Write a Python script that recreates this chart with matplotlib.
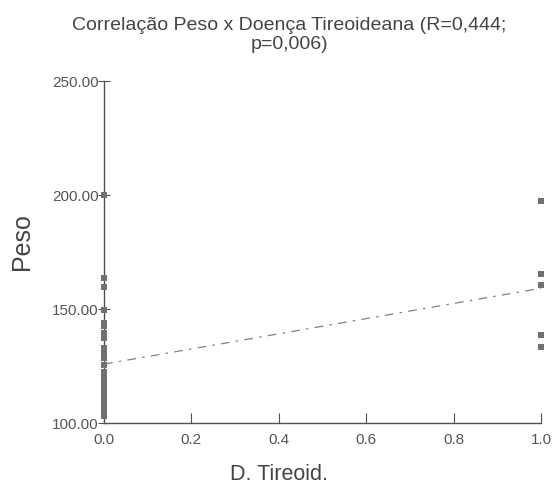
import numpy as np
import matplotlib.pyplot as plt

plt.rcParams['font.family'] = ['Liberation Sans', 'DejaVu Sans']

# D. Tireoid. = 0 group and = 1 group (Peso)
peso_sem = [200, 163.5, 159.5, 149.5, 144, 142.5, 139.5, 137.5, 133, 131, 128.5,
            125.5, 122.5, 121, 120, 119, 118, 117, 116, 115, 114, 113, 112, 111,
            110, 109, 108, 107, 106, 105, 103]
peso_com = [197.5, 165.5, 160.5, 138.5, 133.5]

x = np.array([0] * len(peso_sem) + [1] * len(peso_com), dtype=float)
y = np.array(peso_sem + peso_com, dtype=float)

fig = plt.figure(figsize=(5.54, 4.84), dpi=100)
ax = fig.add_axes([0.1877, 0.126, 0.7888, 0.7066])

ax.scatter(x, y, marker='s', s=22, color='#707070', linewidths=0, zorder=3, clip_on=False)

b, a = np.polyfit(x, y, 1)
xx = np.array([0.0, 1.0])
ax.plot(xx, a + b * xx, color='#808080', lw=0.9, dashes=[7, 5, 2, 5], zorder=2)

ax.set_xlim(0, 1)
ax.set_ylim(100, 250)
ax.set_xticks(np.arange(0, 1.01, 0.2))
ax.set_xticklabels(['0.0', '0.2', '0.4', '0.6', '0.8', '1.0'])
ax.set_yticks([100, 150, 200, 250])
ax.set_yticklabels(['100.00', '150.00', '200.00', '250.00'])

for s in ['top', 'right']:
    ax.spines[s].set_visible(False)
for s in ['left', 'bottom']:
    ax.spines[s].set_color('#505050')
    ax.spines[s].set_linewidth(1.0)

ax.tick_params(axis='x', direction='in', length=7, color='#505050', labelcolor='#555555',
               labelsize=11, pad=7)
ax.tick_params(axis='y', direction='inout', length=8, color='#505050', labelcolor='#555555',
               labelsize=11, pad=0)

fig.text(0.522, 0.928, 'Correlação Peso x Doença Tireoideana (R=0,444;\np=0,006)',
         ha='center', va='center', fontsize=14, color='#444444', linespacing=1.2)
fig.text(0.04, 0.50, 'Peso', rotation=90, ha='center', va='center', fontsize=18, color='#444444')
fig.text(0.503, 0.02, 'D. Tireoid.', ha='center', va='center', fontsize=15.5, color='#444444')

fig.savefig('out.png', dpi=100)
